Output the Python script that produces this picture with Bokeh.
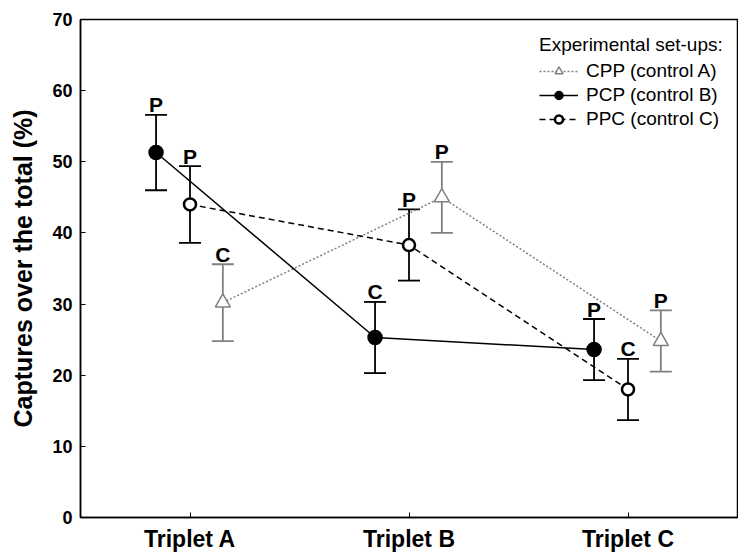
from bokeh.plotting import figure
from bokeh.models import (FactorRange, Range1d, Whisker, TeeHead, ColumnDataSource,
                          Legend, LegendItem, FixedTicker)
from bokeh.transform import dodge
from bokeh.core.properties import value
from bokeh.embed import file_html
from bokeh.resources import INLINE

# ---- data ----
triplets = ["Triplet A", "Triplet B", "Triplet C"]

cpp_mean = [30.2, 45.0, 24.8]
cpp_se = [5.4, 5.0, 4.3]
cpp_sig = ["C", "P", "P"]

pcp_mean = [51.3, 25.3, 23.6]
pcp_se = [5.3, 5.0, 4.3]
pcp_sig = ["P", "C", "P"]

ppc_mean = [44.0, 38.3, 18.0]
ppc_se = [5.4, 5.0, 4.3]
ppc_sig = ["P", "P", "C"]

y_ticks = [0, 10, 20, 30, 40, 50, 60, 70]

FONT = "Liberation Sans"
GRAY = "#808080"

p = figure(width=738, height=558, output_backend="svg", toolbar_location=None,
           x_range=FactorRange(factors=triplets, range_padding=0),
           y_range=Range1d(0, 70),
           min_border_left=80, min_border_right=1, min_border_top=19, min_border_bottom=41)

p.xgrid.grid_line_color = None
p.ygrid.grid_line_color = None
p.outline_line_color = "black"
p.outline_line_width = 1.5

for ax in (p.xaxis[0], p.yaxis[0]):
    ax.axis_line_color = "black"
    ax.axis_line_width = 1.5
    ax.major_tick_in = 5
    ax.major_tick_out = 0
    ax.minor_tick_line_color = None
    ax.major_tick_line_color = "black"
    ax.major_label_text_font = FONT
    ax.major_label_text_font_style = "bold"
    ax.major_label_text_color = "black"

p.yaxis.ticker = FixedTicker(ticks=y_ticks)
p.yaxis.major_label_text_font_size = "18px"
p.yaxis.major_label_standoff = 8
p.yaxis.axis_label = "Captures over the total (%)"
p.yaxis.axis_label_text_font = FONT
p.yaxis.axis_label_text_font_style = "bold"
p.yaxis.axis_label_text_font_size = "25px"
p.yaxis.axis_label_text_color = "black"
p.yaxis.axis_label_standoff = 12
p.xaxis.major_label_text_font_size = "23px"
p.xaxis.major_label_standoff = 8


def series(mean, se, sig, offset, color, dash, marker, fill, mlw, msize):
    src = ColumnDataSource(dict(
        x=triplets, mean=mean,
        lower=[m - s for m, s in zip(mean, se)],
        upper=[m + s for m, s in zip(mean, se)],
        sig=sig))
    xs = dodge("x", offset, range=p.x_range)
    line = p.line(x=xs, y="mean", source=src, line_color=color, line_width=1.5,
                  line_dash=dash)
    w = Whisker(base=xs, lower="lower", upper="upper", source=src,
                line_color=color, line_width=1.8, level="underlay",
                upper_head=TeeHead(size=22, line_color=color, line_width=1.8),
                lower_head=TeeHead(size=22, line_color=color, line_width=1.8))
    p.add_layout(w)
    mk = p.scatter(x=xs, y="mean", source=src, marker=marker, size=msize,
                   fill_color=fill, line_color=color, line_width=mlw)
    p.text(x=xs, y="upper", text="sig", source=src, text_align="center",
           text_baseline="alphabetic", y_offset=-10,
           text_font=value(FONT), text_font_style="bold", text_font_size="21px",
           text_color="black")
    return line, mk


cpp_line, cpp_mk = series(cpp_mean, cpp_se, cpp_sig, 0.15, GRAY, "2 2",
                          "triangle", "white", 1.5, 15)
pcp_line, pcp_mk = series(pcp_mean, pcp_se, pcp_sig, -0.155, "black", "solid",
                          "circle", "black", 1.5, 14)
ppc_line, ppc_mk = series(ppc_mean, ppc_se, ppc_sig, 0.0, "black", "6 4",
                          "circle", "white", 2.5, 12)

legend = Legend(items=[
    LegendItem(label="CPP (control A)", renderers=[cpp_line, cpp_mk]),
    LegendItem(label="PCP (control B)", renderers=[pcp_line, pcp_mk]),
    LegendItem(label="PPC (control C)", renderers=[ppc_line, ppc_mk]),
], location=(459, 387), title="Experimental set-ups:")
legend.title_text_font = FONT
legend.title_text_font_style = "normal"
legend.title_text_font_size = "19px"
legend.title_text_color = "black"
legend.label_text_font = FONT
legend.label_text_font_size = "19px"
legend.label_text_color = "black"
legend.border_line_alpha = 0
legend.background_fill_alpha = 0
legend.margin = 0
legend.padding = 0
legend.glyph_width = 39
legend.glyph_height = 20
legend.label_height = 20
legend.spacing = 2
legend.label_standoff = 8
legend.title_standoff = 4
p.add_layout(legend)

open("out.html", "w").write(file_html(p, INLINE))
